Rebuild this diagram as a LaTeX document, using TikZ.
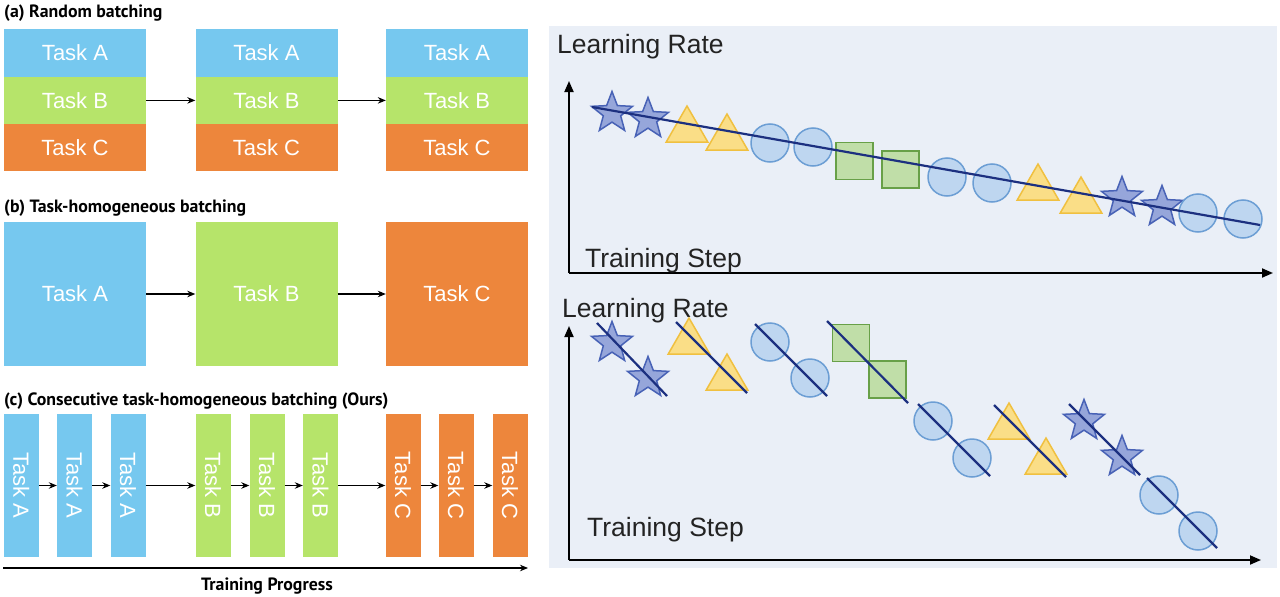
\documentclass[tikz,border=0pt]{standalone}
\usepackage{fontspec}
\setmainfont{Liberation Sans}
\newfontfamily\titlefont{PT Sans}
\usepackage{graphicx}
\usetikzlibrary{shapes.geometric,arrows.meta}

\definecolor{cA}{RGB}{118,200,239}
\definecolor{cB}{RGB}{182,228,106}
\definecolor{cC}{RGB}{237,134,60}
\definecolor{panelbg}{RGB}{234,239,247}
\definecolor{starfill}{RGB}{150,166,218}
\definecolor{stardraw}{RGB}{72,98,182}
\definecolor{trifill}{RGB}{250,222,135}
\definecolor{tridraw}{RGB}{240,192,64}
\definecolor{cirfill}{RGB}{190,214,240}
\definecolor{cirdraw}{RGB}{108,158,212}
\definecolor{sqfill}{RGB}{192,222,168}
\definecolor{sqdraw}{RGB}{104,160,72}
\definecolor{lrline}{RGB}{28,48,128}
\definecolor{txt}{RGB}{35,35,35}

\begin{document}
\begin{tikzpicture}[x=1pt,y=-1pt,
  task/.style={rectangle, inner sep=0pt, text=white, font=\fontsize{22}{26}\selectfont},
  rowbox/.style={task, minimum width=142pt, minimum height=47.6pt},
  bigbox/.style={task, minimum width=142pt, minimum height=144pt},
  barbox/.style={task, minimum width=35pt, minimum height=143pt},
  arr/.style={-{Stealth[length=8pt,width=6.5pt]}, line width=1.1pt, black},
  paneltitle/.style={anchor=base west, inner sep=0pt, font=\titlefont\bfseries\fontsize{17.8}{20}\selectfont},
  axisline/.style={-{Triangle[length=11pt,width=9pt]}, line width=1.8pt, black},
  charttext/.style={anchor=base west, inner sep=0pt, text=txt, font=\fontsize{26.5}{30}\selectfont},
  starmark/.style={star, star points=5, star point ratio=2.35, minimum size=43pt, inner sep=0pt, fill=starfill, draw=stardraw, line width=1.5pt},
  trimark/.style={regular polygon, regular polygon sides=3, minimum size=48pt, inner sep=0pt, fill=trifill, draw=tridraw, line width=1.5pt},
  cirmark/.style={circle, minimum size=38pt, inner sep=0pt, fill=cirfill, draw=cirdraw, line width=1.5pt},
  sqmark/.style={rectangle, minimum size=37pt, inner sep=0pt, fill=sqfill, draw=sqdraw, line width=1.5pt},
  lrseg/.style={line width=2.2pt, lrline}
]
\useasboundingbox (0,0) rectangle (1280,597);

% ---------------- (a) Random batching ----------------
\node[paneltitle] (ta) at (4,17) {(a) Random batching};
\foreach \i/\cx in {1/75,2/266.5,3/457}{
  \node[rowbox, fill=cA] (a\i A) at (\cx,53) {Task A};
  \node[rowbox, fill=cB] (a\i B) at (\cx,100.4) {Task B};
  \node[rowbox, fill=cC] (a\i C) at (\cx,147.6) {Task C};
}
\draw[arr] (a1B.east) -- (a2B.west);
\draw[arr] (a2B.east) -- (a3B.west);

% ---------------- (b) Task-homogeneous batching ----------------
\node[paneltitle] (tb) at (4,212) {(b) Task-homogeneous batching};
\node[bigbox, fill=cA] (bA) at (75,294) {Task A};
\node[bigbox, fill=cB] (bB) at (266.5,294) {Task B};
\node[bigbox, fill=cC] (bC) at (457,294) {Task C};
\draw[arr] (bA.east) -- (bB.west);
\draw[arr] (bB.east) -- (bC.west);

% ---------------- (c) Consecutive ----------------
\node[paneltitle] (tc) at (4,405.5) {(c) Consecutive task-homogeneous batching (Ours)};
\foreach \i/\cx/\c/\l in {1/21.2/cA/A,2/74.5/cA/A,3/128/cA/A,4/213/cB/B,5/267/cB/B,6/320.5/cB/B,7/403/cC/C,8/456/cC/C,9/510/cC/C}{
  \node[barbox, fill=\c] (c\i) at (\cx,485.5) {\rotatebox{-90}{Task \l}};
}
\foreach \i/\j in {1/2,2/3,3/4,4/5,5/6,6/7,7/8,8/9}{
  \draw[arr] (c\i.east) -- (c\j.west);
}
\coordinate (tp0) at (3,568);
\coordinate (tp1) at (528,568);
\draw[-{Stealth[length=8pt,width=6.5pt]}, line width=1.1pt] (tp0) -- (tp1);
\node[anchor=base, inner sep=0pt, font=\titlefont\bfseries\fontsize{17.8}{20}\selectfont] (tpl) at (267,590) {Training Progress};

% ---------------- right panel ----------------
\fill[panelbg] (549,26) rectangle (1277,568);

% top chart
\coordinate (o1) at (569,273);
\coordinate (y1) at (569,81);
\coordinate (x1) at (1273,273);
\draw[axisline] (o1) -- (y1);
\draw[axisline] (o1) -- (x1);
\node[charttext] (lr1) at (557,53) {Learning Rate};
\node[charttext] (ts1) at (585,267) {Training Step};

\node[starmark] (s11) at (612,113) {};
\node[starmark] (s12) at (648,119) {};
\node[trimark] (t11) at (687,130) {};
\node[trimark] (t12) at (727,138) {};
\node[cirmark] (k11) at (770,143) {};
\node[cirmark] (k12) at (813,147) {};
\node[sqmark] (q11) at (854.5,161) {};
\node[sqmark] (q12) at (900.5,169.5) {};
\node[cirmark] (k13) at (947,177) {};
\node[cirmark] (k14) at (992,183) {};
\node[trimark] (t13) at (1038,188) {};
\node[trimark] (t14) at (1081,201) {};
\node[starmark] (s13) at (1122,198) {};
\node[starmark] (s14) at (1162,207) {};
\node[cirmark] (k15) at (1198,213) {};
\node[cirmark] (k16) at (1243,219) {};
\coordinate (l1a) at (592,107);
\coordinate (l1b) at (1260,225);
\draw[lrseg] (l1a) -- (l1b);

% bottom chart
\coordinate (o2) at (569,560);
\coordinate (y2) at (569,326);
\coordinate (x2) at (1261,560);
\draw[axisline] (o2) -- (y2);
\draw[axisline] (o2) -- (x2);
\node[charttext] (lr2) at (562,317) {Learning Rate};
\node[charttext] (ts2) at (587,536) {Training Step};

\node[starmark] (s21) at (612,343) {};
\node[starmark] (s22) at (648,378) {};
\node[trimark] (t21) at (689,342) {};
\node[trimark] (t22) at (727,378) {};
\node[cirmark] (k21) at (770,342) {};
\node[cirmark] (k22) at (810,378) {};
\node[sqmark] (q21) at (851,343) {};
\node[sqmark] (q22) at (887.5,379.5) {};
\node[cirmark] (k23) at (933,421) {};
\node[cirmark] (k24) at (972,458) {};
\node[trimark] (t23) at (1009,427) {};
\node[trimark] (t24) at (1046,462) {};
\node[starmark] (s23) at (1084,421) {};
\node[starmark] (s24) at (1122,457) {};
\node[cirmark] (k25) at (1159,495) {};
\node[cirmark] (k26) at (1198,531) {};

\foreach \n/\ax/\ay/\bx/\by in {1/597/323/667/396, 2/676/322/747/393, 3/755/324/827/396, 4/827/321/908/403, 5/918/404/990/476, 6/994/405/1066/477, 7/1069/404/1140/475, 8/1147/478/1217/548}{
  \coordinate (g\n a) at (\ax,\ay);
  \coordinate (g\n b) at (\bx,\by);
  \draw[lrseg] (g\n a) -- (g\n b);
}
\end{tikzpicture}
\end{document}
